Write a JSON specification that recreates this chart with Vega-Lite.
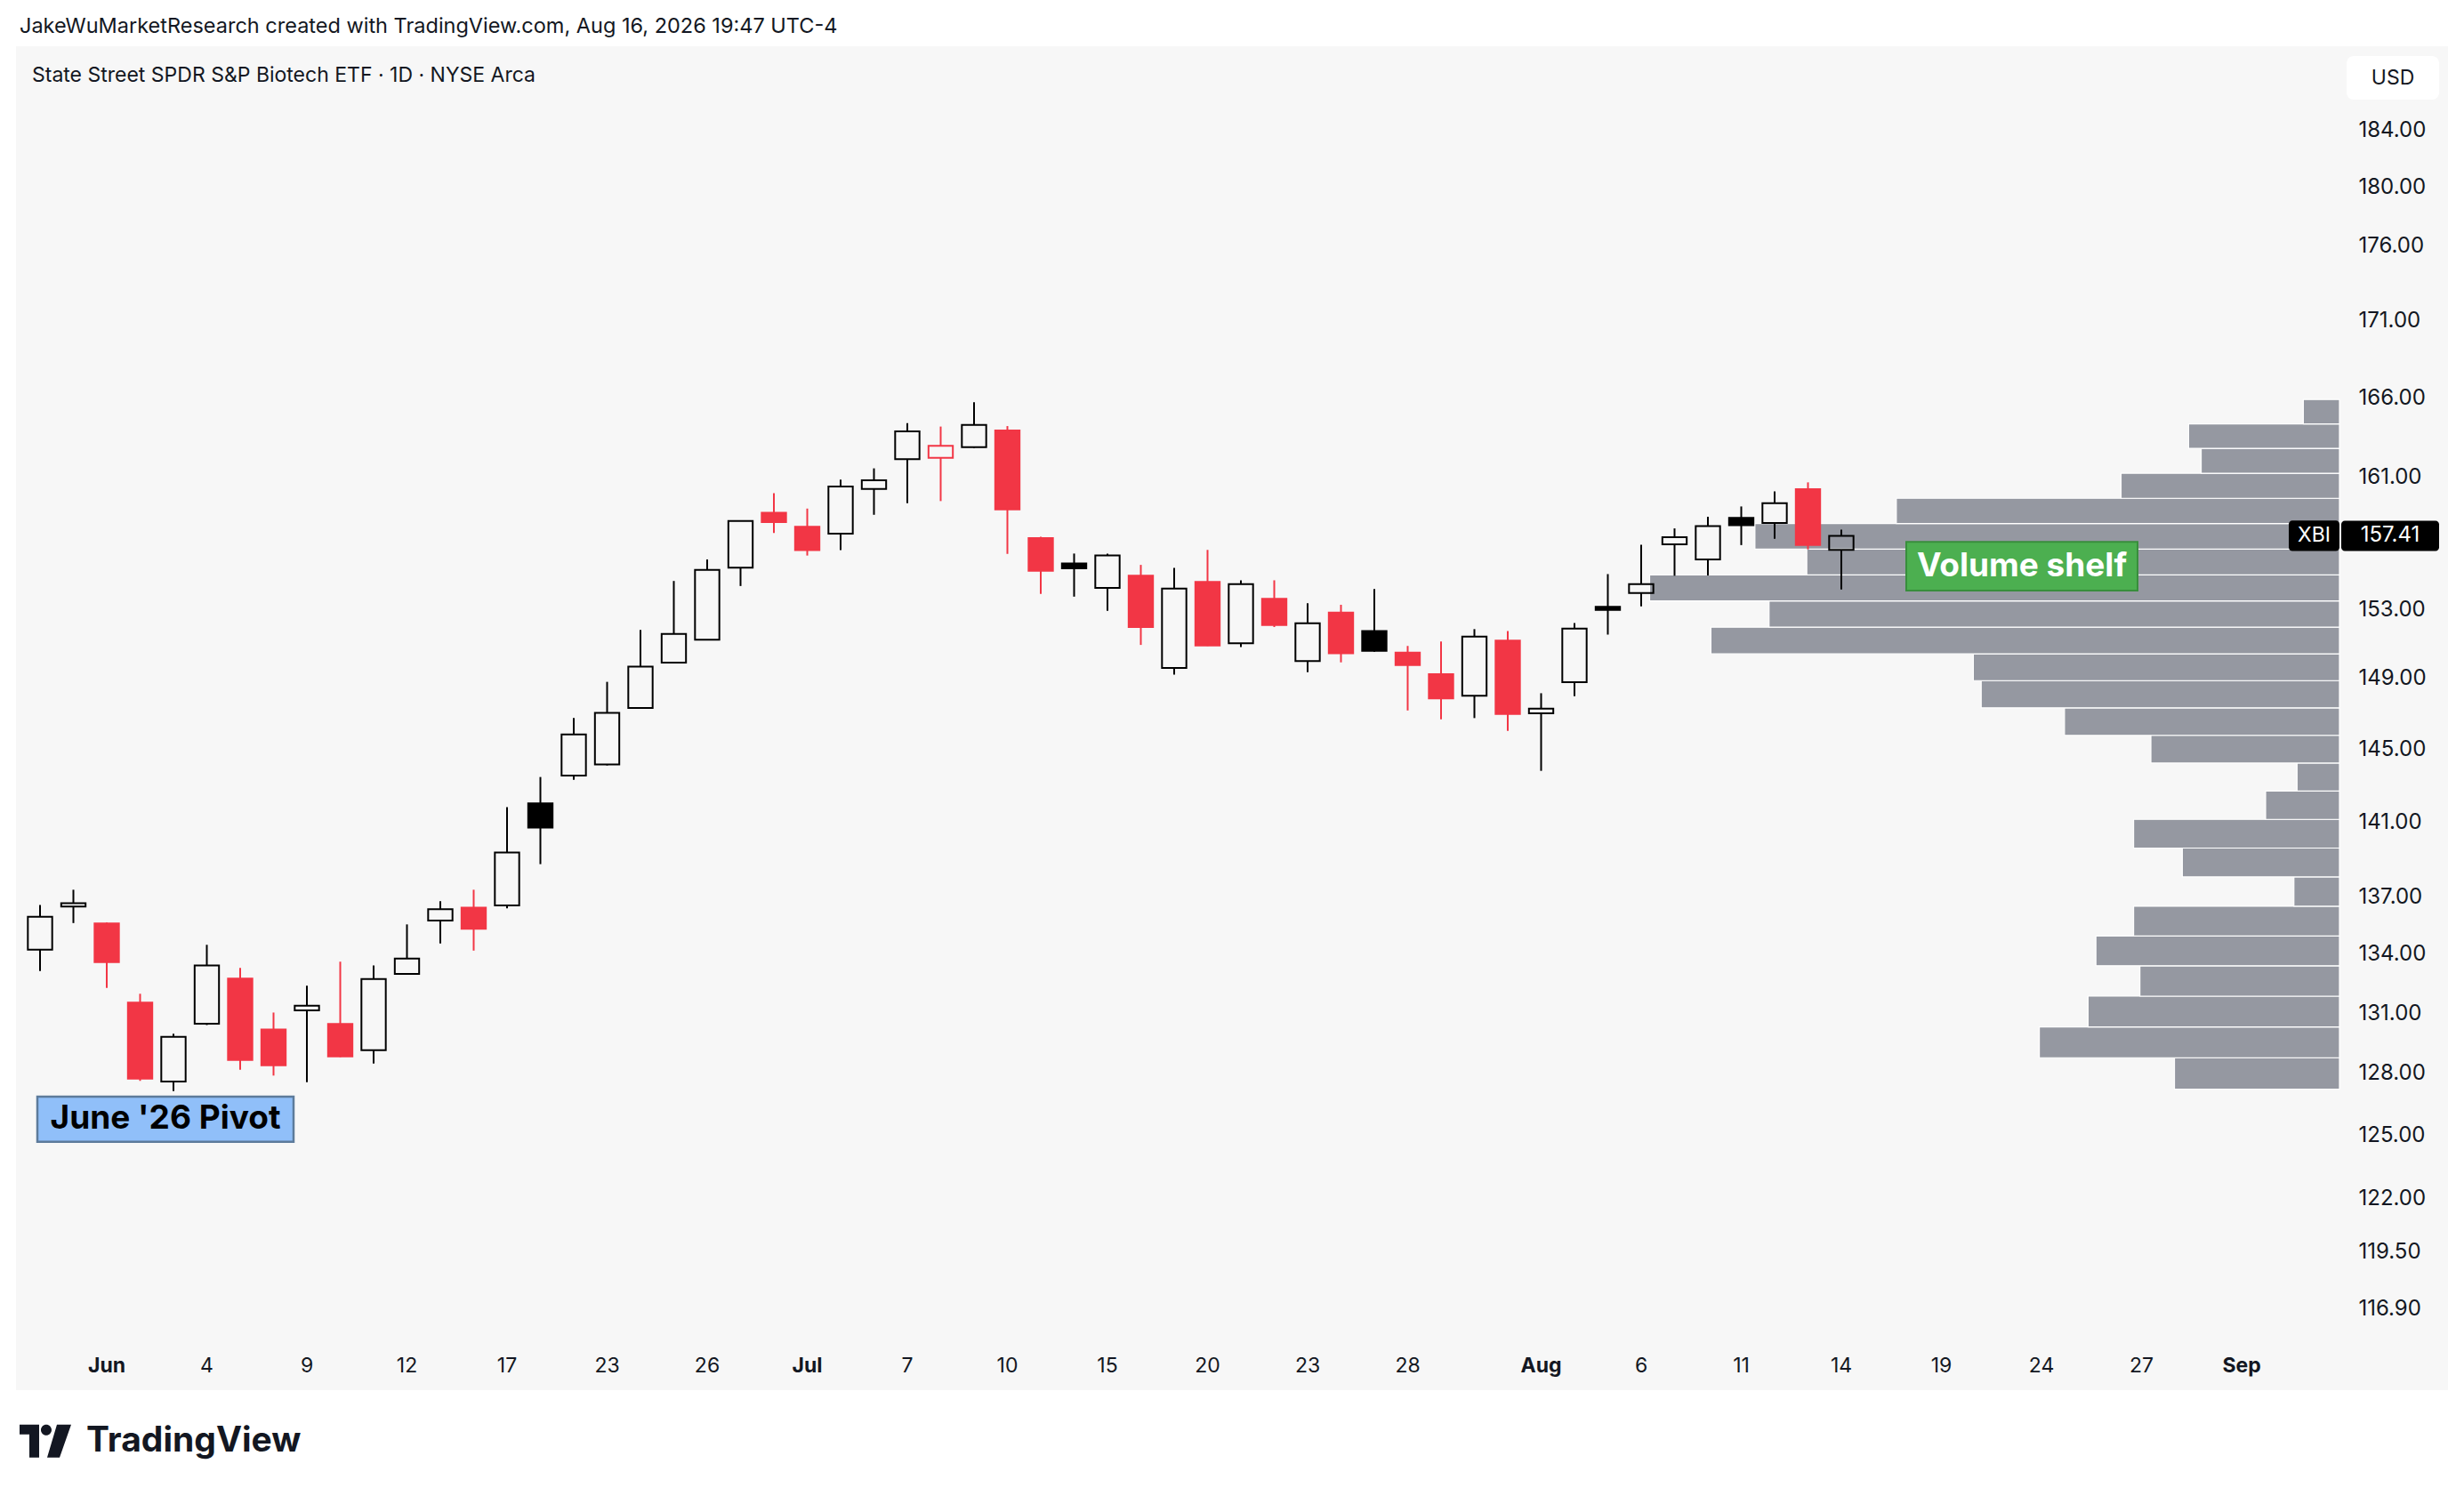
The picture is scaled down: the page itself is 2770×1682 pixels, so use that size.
{
  "$schema": "https://vega.github.io/schema/vega-lite/v6.json",
  "width": 2734,
  "height": 1511,
  "autosize": {"type": "none"},
  "padding": {"left": 18, "top": 52, "right": 18, "bottom": 119},
  "background": "#ffffff",
  "config": {
    "view": {"fill": "#f7f7f7", "stroke": null},
    "font": "Inter",
    "axisY": {
      "grid": false, "ticks": false, "domain": false,
      "labelFontSize": 24, "labelColor": "#131722", "labelFont": "Inter",
      "labelAlign": "left", "labelBaseline": "middle", "labelPadding": 0,
      "labelOverlap": false, "labelFlush": false
    }
  },
  "resolve": {"scale": {"x": "independent"}},
  "layer": [
    {
      "data": {"values": [
        {"lo": 127.22, "hi": 128.77, "vol": 10.5},
        {"lo": 128.77, "hi": 130.31, "vol": 19.1},
        {"lo": 130.31, "hi": 131.86, "vol": 16.0},
        {"lo": 131.86, "hi": 133.41, "vol": 12.7},
        {"lo": 133.41, "hi": 134.95, "vol": 15.5},
        {"lo": 134.95, "hi": 136.50, "vol": 13.1},
        {"lo": 136.50, "hi": 138.05, "vol": 2.9},
        {"lo": 138.05, "hi": 139.59, "vol": 10.0},
        {"lo": 139.59, "hi": 141.14, "vol": 13.1},
        {"lo": 141.14, "hi": 142.69, "vol": 4.7},
        {"lo": 142.69, "hi": 144.23, "vol": 2.7},
        {"lo": 144.23, "hi": 145.78, "vol": 12.0},
        {"lo": 145.78, "hi": 147.33, "vol": 17.5},
        {"lo": 147.33, "hi": 148.88, "vol": 22.8},
        {"lo": 148.88, "hi": 150.42, "vol": 23.3},
        {"lo": 150.42, "hi": 151.97, "vol": 40.0},
        {"lo": 151.97, "hi": 153.52, "vol": 36.3},
        {"lo": 153.52, "hi": 155.06, "vol": 43.9},
        {"lo": 155.06, "hi": 156.61, "vol": 33.9},
        {"lo": 156.61, "hi": 158.16, "vol": 37.2},
        {"lo": 158.16, "hi": 159.70, "vol": 28.2},
        {"lo": 159.70, "hi": 161.25, "vol": 13.9},
        {"lo": 161.25, "hi": 162.80, "vol": 8.8},
        {"lo": 162.80, "hi": 164.34, "vol": 9.6},
        {"lo": 164.34, "hi": 165.89, "vol": 2.3}
      ]},
      "mark": {"type": "rect", "fill": "#9598a1", "stroke": "#ffffff", "strokeWidth": 1.2},
      "encoding": {
        "x": {"field": "vol", "type": "quantitative", "scale": {"domain": [0, 147.86], "range": [2612, 0], "nice": false, "zero": false}, "axis": null},
        "x2": {"datum": 0},
        "y": {
          "field": "lo", "type": "quantitative", "title": null,
          "scale": {"type": "log", "domain": [113.31, 190.04], "nice": false, "zero": false},
          "axis": {
            "orient": "right", "offset": -101, "title": null,
            "values": [184, 180, 176, 171, 166, 161, 153, 149, 145, 141, 137, 134, 131, 128, 125, 122, 119.5, 116.9],
            "format": ".2f"
          }
        },
        "y2": {"field": "hi"}
      }
    },
    {
      "encoding": {
        "x": {
          "field": "date", "type": "ordinal", "title": null,
          "scale": {
            "domain": ["2026-05-28","2026-05-29","2026-06-01","2026-06-02","2026-06-03","2026-06-04","2026-06-05","2026-06-08","2026-06-09","2026-06-10","2026-06-11","2026-06-12","2026-06-15","2026-06-16","2026-06-17","2026-06-18","2026-06-22","2026-06-23","2026-06-24","2026-06-25","2026-06-26","2026-06-29","2026-06-30","2026-07-01","2026-07-02","2026-07-06","2026-07-07","2026-07-08","2026-07-09","2026-07-10","2026-07-13","2026-07-14","2026-07-15","2026-07-16","2026-07-17","2026-07-20","2026-07-21","2026-07-22","2026-07-23","2026-07-24","2026-07-27","2026-07-28","2026-07-29","2026-07-30","2026-07-31","2026-08-03","2026-08-04","2026-08-05","2026-08-06","2026-08-07","2026-08-10","2026-08-11","2026-08-12","2026-08-13","2026-08-14","2026-08-17","2026-08-18","2026-08-19","2026-08-20","2026-08-21","2026-08-24","2026-08-25","2026-08-26","2026-08-27","2026-08-28","2026-08-31","2026-09-01","2026-09-02","2026-09-03","2026-09-04","2026-09-08","2026-09-09","2026-09-10"],
            "range": [8.25, 2745.75], "paddingInner": 0, "paddingOuter": 0
          },
          "axis": {
            "orient": "bottom", "offset": -28, "title": null,
            "values": ["2026-06-01","2026-06-04","2026-06-09","2026-06-12","2026-06-17","2026-06-23","2026-06-26","2026-07-01","2026-07-07","2026-07-10","2026-07-15","2026-07-20","2026-07-23","2026-07-28","2026-08-03","2026-08-06","2026-08-11","2026-08-14","2026-08-19","2026-08-24","2026-08-27","2026-09-01"],
            "labelExpr": "datum.value == '2026-06-01' ? 'Jun' : datum.value == '2026-07-01' ? 'Jul' : datum.value == '2026-08-03' ? 'Aug' : datum.value == '2026-09-01' ? 'Sep' : toString(toNumber(slice(datum.value, 8)))",
            "labelFontWeight": {"condition": {"test": "indexof(['2026-06-01','2026-07-01','2026-08-03','2026-09-01'], datum.value) >= 0", "value": "bold"}, "value": "normal"},
            "labelFontSize": 23, "labelColor": "#131722", "labelFont": "Inter",
            "labelBaseline": "middle", "labelPadding": 0, "labelAngle": 0,
            "ticks": false, "domain": false, "grid": false, "labelOverlap": false, "labelFlush": false
          }
        }
      },
      "layer": [
        {
          "data": {"values": [
            {"date": "2026-05-28", "open": 134.24, "high": 136.57, "low": 133.14, "close": 135.95},
            {"date": "2026-05-29", "open": 136.48, "high": 137.37, "low": 135.62, "close": 136.66},
            {"date": "2026-06-01", "open": 135.60, "high": 135.65, "low": 132.28, "close": 133.60},
            {"date": "2026-06-02", "open": 131.53, "high": 131.98, "low": 127.63, "close": 127.74},
            {"date": "2026-06-03", "open": 127.60, "high": 129.97, "low": 127.13, "close": 129.81},
            {"date": "2026-06-04", "open": 130.47, "high": 134.49, "low": 130.40, "close": 133.42},
            {"date": "2026-06-05", "open": 132.75, "high": 133.30, "low": 128.18, "close": 128.66},
            {"date": "2026-06-08", "open": 130.18, "high": 131.03, "low": 127.89, "close": 128.40},
            {"date": "2026-06-09", "open": 131.14, "high": 132.39, "low": 127.57, "close": 131.38},
            {"date": "2026-06-10", "open": 130.46, "high": 133.62, "low": 128.80, "close": 128.84},
            {"date": "2026-06-11", "open": 129.15, "high": 133.42, "low": 128.49, "close": 132.73},
            {"date": "2026-06-12", "open": 132.99, "high": 135.55, "low": 132.95, "close": 133.78},
            {"date": "2026-06-15", "open": 135.75, "high": 136.77, "low": 134.56, "close": 136.35},
            {"date": "2026-06-16", "open": 136.43, "high": 137.37, "low": 134.19, "close": 135.32},
            {"date": "2026-06-17", "open": 136.54, "high": 141.81, "low": 136.39, "close": 139.35},
            {"date": "2026-06-18", "open": 142.01, "high": 143.46, "low": 138.73, "close": 140.69},
            {"date": "2026-06-22", "open": 143.54, "high": 146.75, "low": 143.30, "close": 145.83},
            {"date": "2026-06-23", "open": 144.15, "high": 148.81, "low": 144.10, "close": 147.04},
            {"date": "2026-06-24", "open": 147.32, "high": 151.81, "low": 147.30, "close": 149.69},
            {"date": "2026-06-25", "open": 149.92, "high": 154.70, "low": 149.90, "close": 151.58},
            {"date": "2026-06-26", "open": 151.24, "high": 155.98, "low": 151.20, "close": 155.36},
            {"date": "2026-06-29", "open": 155.50, "high": 158.35, "low": 154.40, "close": 158.31},
            {"date": "2026-06-30", "open": 158.82, "high": 160.02, "low": 157.58, "close": 158.25},
            {"date": "2026-07-01", "open": 157.96, "high": 159.07, "low": 156.22, "close": 156.55},
            {"date": "2026-07-02", "open": 157.54, "high": 160.85, "low": 156.55, "close": 160.43},
            {"date": "2026-07-06", "open": 160.27, "high": 161.55, "low": 158.69, "close": 160.81},
            {"date": "2026-07-07", "open": 162.12, "high": 164.38, "low": 159.40, "close": 163.87},
            {"date": "2026-07-08", "open": 162.21, "high": 164.17, "low": 159.53, "close": 162.96},
            {"date": "2026-07-09", "open": 162.87, "high": 165.71, "low": 162.80, "close": 164.27},
            {"date": "2026-07-10", "open": 163.92, "high": 164.20, "low": 156.32, "close": 159.02},
            {"date": "2026-07-13", "open": 157.27, "high": 157.35, "low": 153.93, "close": 155.31},
            {"date": "2026-07-14", "open": 155.75, "high": 156.34, "low": 153.77, "close": 155.46},
            {"date": "2026-07-15", "open": 154.29, "high": 156.34, "low": 152.93, "close": 156.23},
            {"date": "2026-07-16", "open": 155.01, "high": 155.66, "low": 150.94, "close": 151.98},
            {"date": "2026-07-17", "open": 149.61, "high": 155.48, "low": 149.23, "close": 154.25},
            {"date": "2026-07-20", "open": 154.64, "high": 156.56, "low": 150.88, "close": 150.91},
            {"date": "2026-07-21", "open": 151.03, "high": 154.74, "low": 150.82, "close": 154.51},
            {"date": "2026-07-22", "open": 153.64, "high": 154.74, "low": 151.98, "close": 152.10},
            {"date": "2026-07-23", "open": 150.00, "high": 153.38, "low": 149.37, "close": 152.20},
            {"date": "2026-07-24", "open": 152.83, "high": 153.29, "low": 149.93, "close": 150.45},
            {"date": "2026-07-27", "open": 151.75, "high": 154.22, "low": 150.55, "close": 150.60},
            {"date": "2026-07-28", "open": 150.50, "high": 150.88, "low": 147.18, "close": 149.77},
            {"date": "2026-07-29", "open": 149.25, "high": 151.14, "low": 146.68, "close": 147.87},
            {"date": "2026-07-30", "open": 148.02, "high": 151.86, "low": 146.75, "close": 151.42},
            {"date": "2026-07-31", "open": 151.19, "high": 151.75, "low": 146.03, "close": 146.98},
            {"date": "2026-08-03", "open": 147.02, "high": 148.16, "low": 143.80, "close": 147.28},
            {"date": "2026-08-04", "open": 148.79, "high": 152.22, "low": 147.99, "close": 151.89},
            {"date": "2026-08-05", "open": 153.17, "high": 155.11, "low": 151.54, "close": 152.99},
            {"date": "2026-08-06", "open": 153.98, "high": 156.87, "low": 153.20, "close": 154.51},
            {"date": "2026-08-07", "open": 156.89, "high": 157.86, "low": 155.01, "close": 157.32},
            {"date": "2026-08-10", "open": 155.98, "high": 158.57, "low": 155.03, "close": 158.00},
            {"date": "2026-08-11", "open": 158.50, "high": 159.20, "low": 156.85, "close": 158.06},
            {"date": "2026-08-12", "open": 158.19, "high": 160.13, "low": 157.23, "close": 159.40},
            {"date": "2026-08-13", "open": 160.26, "high": 160.68, "low": 156.59, "close": 156.85},
            {"date": "2026-08-14", "open": 156.56, "high": 157.79, "low": 154.20, "close": 157.41}
          ]},
          "transform": [
            {"window": [{"op": "lag", "field": "close", "as": "prev"}], "sort": [{"field": "date", "order": "ascending"}]}
          ],
          "layer": [
            {
              "transform": [{"filter": "datum.close < datum.open"}],
              "mark": {"type": "rule", "strokeWidth": 2},
              "encoding": {
                "y": {"field": "high", "type": "quantitative", "title": null, "scale": {"type": "log", "domain": [113.31, 190.04], "nice": false, "zero": false}},
                "y2": {"field": "low"},
                "stroke": {"condition": {"test": "datum.close < datum.prev", "value": "#f23645"}, "value": "#000000"}
              }
            },
            {
              "transform": [{"filter": "datum.close >= datum.open"}],
              "mark": {"type": "rule", "strokeWidth": 2},
              "encoding": {
                "y": {"field": "high", "type": "quantitative", "title": null, "scale": {"type": "log", "domain": [113.31, 190.04], "nice": false, "zero": false}},
                "y2": {"field": "close"},
                "stroke": {"condition": {"test": "datum.close < datum.prev", "value": "#f23645"}, "value": "#000000"}
              }
            },
            {
              "transform": [{"filter": "datum.close >= datum.open"}],
              "mark": {"type": "rule", "strokeWidth": 2},
              "encoding": {
                "y": {"field": "open", "type": "quantitative", "title": null, "scale": {"type": "log", "domain": [113.31, 190.04], "nice": false, "zero": false}},
                "y2": {"field": "low"},
                "stroke": {"condition": {"test": "datum.close < datum.prev", "value": "#f23645"}, "value": "#000000"}
              }
            },
            {
              "mark": {"type": "bar", "width": {"band": 0.73}, "strokeWidth": 2},
              "encoding": {
                "y": {"field": "open", "type": "quantitative", "title": null, "scale": {"type": "log", "domain": [113.31, 190.04], "nice": false, "zero": false}},
                "y2": {"field": "close"},
                "fill": {"condition": [
                  {"test": "datum.close < datum.open && datum.close < datum.prev", "value": "#f23645"},
                  {"test": "datum.close < datum.open", "value": "#000000"}
                ], "value": "transparent"},
                "stroke": {"condition": {"test": "datum.close < datum.prev", "value": "#f23645"}, "value": "#000000"}
              }
            }
          ]
        },
        {
          "data": {"values": [{"date": "2026-06-03", "price": 125.76, "label": "June '26 Pivot"}]},
          "encoding": {
            "y": {"field": "price", "type": "quantitative", "title": null, "scale": {"type": "log", "domain": [113.31, 190.04], "nice": false, "zero": false}}
          },
          "layer": [
            {"mark": {"type": "point", "shape": "M-1,-0.177H1V0.177H-1Z", "size": 82944, "filled": true, "fill": "#90bff9", "stroke": "#5d7b9b", "strokeWidth": 2.5, "opacity": 1, "xOffset": -9}},
            {"mark": {"type": "text", "font": "Inter", "fontSize": 37, "fontWeight": "bold", "color": "#000000", "align": "center", "baseline": "middle", "xOffset": -9}, "encoding": {"text": {"field": "label"}}}
          ]
        },
        {
          "data": {"values": [{"date": "2026-08-21", "price": 155.58, "label": "Volume shelf"}]},
          "encoding": {
            "y": {"field": "price", "type": "quantitative", "title": null, "scale": {"type": "log", "domain": [113.31, 190.04], "nice": false, "zero": false}}
          },
          "layer": [
            {"mark": {"type": "point", "shape": "M-1,-0.2115H1V0.2115H-1Z", "size": 67600, "filled": true, "fill": "#4caf50", "stroke": "#388e3c", "strokeWidth": 2, "opacity": 1, "xOffset": 15.5}},
            {"mark": {"type": "text", "font": "Inter", "fontSize": 37, "fontWeight": "bold", "color": "#ffffff", "align": "center", "baseline": "middle", "xOffset": 15.5}, "encoding": {"text": {"field": "label"}}}
          ]
        },
        {
          "data": {"values": [{"date": "2026-09-08", "price": 187.74, "label": "USD"}]},
          "encoding": {
            "y": {"field": "price", "type": "quantitative", "title": null, "scale": {"type": "log", "domain": [113.31, 190.04], "nice": false, "zero": false}}
          },
          "layer": [
            {"mark": {"type": "point", "shape": "M-0.846,-0.471H0.846A0.154,0.154 0 0 1 1,-0.317V0.317A0.154,0.154 0 0 1 0.846,0.471H-0.846A0.154,0.154 0 0 1 -1,0.317V-0.317A0.154,0.154 0 0 1 -0.846,-0.471Z", "size": 10816, "filled": true, "fill": "#ffffff", "strokeWidth": 0, "opacity": 1, "xOffset": 20}},
            {"mark": {"type": "text", "font": "Inter", "fontSize": 23, "color": "#131722", "align": "center", "baseline": "middle", "xOffset": 20}, "encoding": {"text": {"field": "label"}}}
          ]
        },
        {
          "data": {"values": [{"date": "2026-09-03", "price": 157.41, "label": "XBI"}]},
          "encoding": {
            "y": {"field": "price", "type": "quantitative", "title": null, "scale": {"type": "log", "domain": [113.31, 190.04], "nice": false, "zero": false}}
          },
          "layer": [
            {"mark": {"type": "point", "shape": "M-0.855,-0.6H0.855A0.145,0.145 0 0 1 1,-0.455V0.455A0.145,0.145 0 0 1 0.855,0.6H-0.855A0.145,0.145 0 0 1 -1,0.455V-0.455A0.145,0.145 0 0 1 -0.855,-0.6Z", "size": 3249, "filled": true, "fill": "#000000", "strokeWidth": 0, "opacity": 1, "xOffset": 6.5}},
            {"mark": {"type": "text", "font": "Inter", "fontSize": 23, "color": "#ffffff", "align": "center", "baseline": "middle", "xOffset": 6.5}, "encoding": {"text": {"field": "label"}}}
          ]
        },
        {
          "data": {"values": [{"date": "2026-09-08", "price": 157.41, "label": "157.41"}]},
          "encoding": {
            "y": {"field": "price", "type": "quantitative", "title": null, "scale": {"type": "log", "domain": [113.31, 190.04], "nice": false, "zero": false}}
          },
          "layer": [
            {"mark": {"type": "point", "shape": "M-0.927,-0.309H0.927A0.073,0.073 0 0 1 1,-0.236V0.236A0.073,0.073 0 0 1 0.927,0.309H-0.927A0.073,0.073 0 0 1 -1,0.236V-0.236A0.073,0.073 0 0 1 -0.927,-0.309Z", "size": 12100, "filled": true, "fill": "#000000", "strokeWidth": 0, "opacity": 1, "xOffset": 17}},
            {"mark": {"type": "text", "font": "Inter", "fontSize": 24, "color": "#ffffff", "align": "center", "baseline": "middle", "xOffset": 17}, "encoding": {"text": {"field": "label"}}}
          ]
        },
        {
          "data": {"values": [{"date": "2026-05-28", "price": 191.47, "label": "JakeWuMarketResearch created with TradingView.com, Aug 16, 2026 19:47 UTC-4"}]},
          "mark": {"type": "text", "font": "Inter", "fontSize": 23.5, "color": "#131722", "align": "left", "baseline": "middle", "xOffset": -23},
          "encoding": {
            "y": {"field": "price", "type": "quantitative", "title": null, "scale": {"type": "log", "domain": [113.31, 190.04], "nice": false, "zero": false}},
            "text": {"field": "label"}
          }
        },
        {
          "data": {"values": [{"date": "2026-05-28", "price": 187.9, "label": "State Street SPDR S&P Biotech ETF · 1D · NYSE Arca"}]},
          "mark": {"type": "text", "font": "Inter", "fontSize": 23, "color": "#131722", "align": "left", "baseline": "middle", "xOffset": -9},
          "encoding": {
            "y": {"field": "price", "type": "quantitative", "title": null, "scale": {"type": "log", "domain": [113.31, 190.04], "nice": false, "zero": false}},
            "text": {"field": "label"}
          }
        },
        {
          "data": {"values": [{"date": "2026-05-28", "price": 111.11}]},
          "mark": {"type": "point", "shape": "M-1,-0.638H-0.241V0.638H-0.621V-0.259H-1Z M-0.173,-0.431A0.207,0.207 0 1 0 0.241,-0.431A0.207,0.207 0 1 0 -0.173,-0.431Z M0.448,-0.638H1L0.552,0.638H0.069Z", "size": 3364, "filled": true, "fill": "#131722", "strokeWidth": 0, "opacity": 1, "xOffset": 6},
          "encoding": {
            "y": {"field": "price", "type": "quantitative", "title": null, "scale": {"type": "log", "domain": [113.31, 190.04], "nice": false, "zero": false}}
          }
        },
        {
          "data": {"values": [{"date": "2026-05-29", "price": 111.11, "label": "TradingView"}]},
          "mark": {"type": "text", "font": "Inter", "fontSize": 39, "fontWeight": "bold", "color": "#131722", "align": "left", "baseline": "middle", "xOffset": 14.5},
          "encoding": {
            "y": {"field": "price", "type": "quantitative", "title": null, "scale": {"type": "log", "domain": [113.31, 190.04], "nice": false, "zero": false}},
            "text": {"field": "label"}
          }
        }
      ]
    }
  ]
}
